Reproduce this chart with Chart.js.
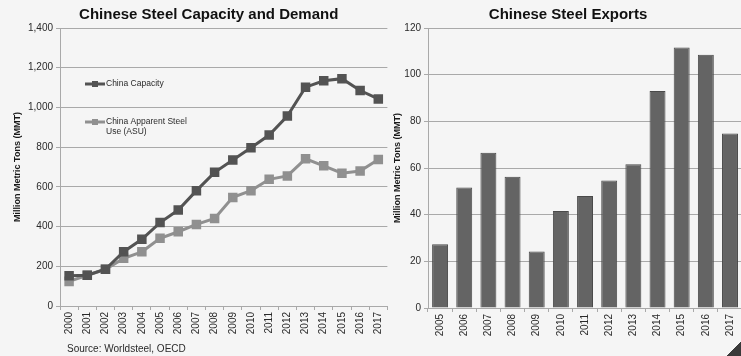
<!DOCTYPE html>
<html>
<head>
<meta charset="utf-8">
<script src="https://cdn.jsdelivr.net/npm/chart.js@4/dist/chart.umd.min.js"></script>
<style>
  html, body { margin: 0; padding: 0; }
  body {
    width: 741px; height: 356px; position: relative; overflow: hidden;
    background: #f5f5f5; font-family: 'Liberation Sans', Arial, sans-serif;
  }
  #capBox { position: absolute; left: 0; top: 0; width: 395px; height: 356px; }
  #expBox { position: absolute; left: 388px; top: 0; width: 356px; height: 356px; }
  .source {
    position: absolute; left: 67px; top: 343px; font-size: 10px; color: #2a2a2a;
  }
  .corner {
    position: absolute; right: 0; bottom: 0; width: 16px; height: 16px;
    background: linear-gradient(135deg, transparent 55%, #3a3a3a 56%);
  }
</style>
</head>
<body>
<div id="capBox"><canvas id="capacityChart"></canvas></div>
<div id="expBox"><canvas id="exportChart"></canvas></div>
<div class="source">Source: Worldsteel, OECD</div>
<div class="corner"></div>

<script>
// --- data ---
const capYears = ['2000', '2001', '2002', '2003', '2004', '2005', '2006', '2007', '2008',
                  '2009', '2010', '2011', '2012', '2013', '2014', '2015', '2016', '2017'];
const chinaCapacity = [152, 155, 185, 273, 336, 420, 483, 581, 673,
                       735, 797, 861, 957, 1102, 1134, 1145, 1085, 1043];
const chinaASU = [124, 155, 185, 240, 273, 341, 374, 411, 441,
                  547, 581, 638, 655, 741, 706, 669, 680, 738];

const exportYears = ['2005', '2006', '2007', '2008', '2009', '2010', '2011',
                     '2012', '2013', '2014', '2015', '2016', '2017'];
const steelExports = [27.3, 51.6, 66.5, 56.2, 24.2, 41.6, 48.0,
                      54.6, 61.6, 93.0, 111.6, 108.5, 74.8];

const capTicks = { min: 0, max: 1400, step: 200 };
const expTicks = { min: 0, max: 120, step: 20 };

// --- styles ---
const FONT = "'Liberation Sans', Arial, sans-serif";
const darkGray = '#535353';
const lightGray = '#909090';
const gridGray = '#a9a9a9';
const textGray = '#2a2a2a';

Chart.defaults.font.family = FONT;
Chart.defaults.color = textGray;
Chart.defaults.animation = false;

// bold heading, centred on a point shifted from the plot-area centre
const headline = {
    id: 'headline',
    afterDraw(chart, args, opts) {
        const ctx = chart.ctx;
        const a = chart.chartArea;
        ctx.save();
        ctx.font = 'bold 15px ' + FONT;
        ctx.fillStyle = '#111';
        ctx.textAlign = 'center';
        ctx.textBaseline = 'middle';
        ctx.fillText(opts.text, (a.left + a.right) / 2 + (opts.shift || 0), 15);
        ctx.restore();
    }
};

// in-plot legend for the line chart
const insideLegend = {
    id: 'insideLegend',
    afterDatasetsDraw(chart) {
        const ctx = chart.ctx;
        const a = chart.chartArea;
        const items = [
            { ds: chart.data.datasets[0], y: 84, lines: ['China Capacity'] },
            { ds: chart.data.datasets[1], y: 122, lines: ['China Apparent Steel', 'Use (ASU)'] }
        ];
        ctx.save();
        items.forEach(it => {
            const x0 = a.left + 25, x1 = a.left + 45;
            ctx.strokeStyle = it.ds.borderColor;
            ctx.lineWidth = 3;
            ctx.beginPath();
            ctx.moveTo(x0, it.y);
            ctx.lineTo(x1, it.y);
            ctx.stroke();
            ctx.fillStyle = it.ds.borderColor;
            ctx.fillRect((x0 + x1) / 2 - 3, it.y - 3, 6, 6);
            ctx.fillStyle = textGray;
            ctx.font = '8.5px ' + FONT;
            ctx.textBaseline = 'middle';
            ctx.textAlign = 'left';
            it.lines.forEach((t, i) => ctx.fillText(t, x1 + 1, it.y + i * 10));
        });
        ctx.restore();
    }
};

function yScale(t, titlePad, width) {
    return {
        min: t.min,
        max: t.max,
        ticks: { stepSize: t.step, font: { size: 10 }, color: textGray, padding: 3 },
        grid: { color: gridGray, lineWidth: 1, tickLength: 4, tickColor: gridGray },
        border: { color: gridGray },
        title: {
            display: true,
            text: 'Million Metric Tons (MMT)',
            font: { size: 9, weight: 'bold' },
            color: '#1a1a1a',
            padding: { top: titlePad, bottom: 0 }
        },
        afterFit(scale) { scale.width = width; }
    };
}

function xScale(height) {
    return {
        offset: true,
        ticks: { minRotation: 90, maxRotation: 90, autoSkip: false, font: { size: 10 }, color: textGray, padding: 2 },
        grid: { offset: true, drawOnChartArea: false, tickLength: 4, color: gridGray },
        border: { color: gridGray },
        afterFit(scale) { scale.height = height; }
    };
}

// --- line chart: capacity vs apparent use ---
new Chart(document.getElementById('capacityChart'), {
    type: 'line',
    data: {
        labels: capYears,
        datasets: [
            {
                label: 'China Capacity',
                data: chinaCapacity,
                borderColor: darkGray,
                backgroundColor: darkGray,
                borderWidth: 3,
                pointStyle: 'rect',
                pointRadius: 4.6,
                tension: 0
            },
            {
                label: 'China Apparent Steel Use (ASU)',
                data: chinaASU,
                borderColor: lightGray,
                backgroundColor: lightGray,
                borderWidth: 3,
                pointStyle: 'rect',
                pointRadius: 4.6,
                tension: 0
            }
        ]
    },
    options: {
        responsive: true,
        maintainAspectRatio: false,
        layout: { padding: { top: 28, right: 0 } },
        plugins: {
            legend: { display: false },
            tooltip: { enabled: false },
            title: { display: false },
            headline: { text: 'Chinese Steel Capacity and Demand', shift: -15 }
        },
        scales: {
            x: xScale(50),
            y: yScale(capTicks, 12, 60)
        }
    },
    plugins: [insideLegend, headline]
});

// --- bar chart: exports ---
new Chart(document.getElementById('exportChart'), {
    type: 'bar',
    data: {
        labels: exportYears,
        datasets: [{
            label: 'Exports',
            data: steelExports,
            backgroundColor: '#646464',
            borderColor: '#4a4a4a',
            borderWidth: 1,
            barPercentage: 0.66,
            categoryPercentage: 1
        }]
    },
    options: {
        responsive: true,
        maintainAspectRatio: false,
        layout: { padding: { top: 28, right: 0 } },
        plugins: {
            legend: { display: false },
            tooltip: { enabled: false },
            title: { display: false },
            headline: { text: 'Chinese Steel Exports', shift: -17 }
        },
        scales: {
            x: xScale(48),
            y: yScale(expTicks, 4, 40)
        }
    },
    plugins: [headline]
});
</script>
</body>
</html>
